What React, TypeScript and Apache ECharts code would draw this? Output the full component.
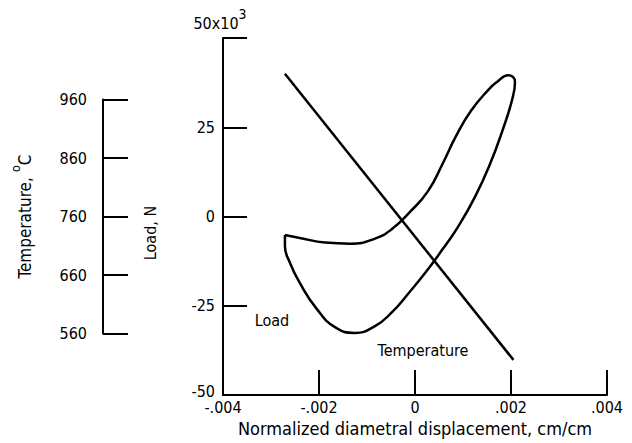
import React, { useEffect, useRef } from "react";
import * as echarts from "echarts";

const FONT = "'DejaVu Sans Condensed', 'Liberation Sans Narrow', 'DejaVu Sans', sans-serif";

// Axis ticks and labels
const xTicks = [-0.004, -0.002, 0, 0.002, 0.004];
const xTickLabels = ["-.004", "-.002", "0", ".002", ".004"];
const loadTicks = [-50, -25, 0, 25, 50];
const loadTickLabels = ["{low|-50}", "-25", "0", "25", ""];
const temperatureTicks = [560, 660, 760, 860, 960];
const temperatureTickLabels = ["560", "660", "760", "860", "960"];

// Load loop (displacement, cm/cm ; load, 10^3 N), traced around the hysteresis loop
const loadDisplacement = [
  -0.00271, -0.0024, -0.001875, -0.001354, -0.000833, -0.000479, -0.000104, 0.000271,
  0.000583, 0.000854, 0.001167, 0.001542, 0.001708, 0.001938, 0.002083,
  0.002021, 0.001833, 0.001563, 0.00125, 0.000896, 0.000563, 0.00023, -0.000146, -0.000479,
  -0.000833, -0.00125, -0.001667, -0.002063, -0.0024, -0.002604, -0.00271, -0.00271,
];
const loadValues = [
  -5.2, -6.0, -7.3, -7.6, -6.2, -3.5, 1.3, 7.1, 15.0, 22.5, 29.6, 35.7, 37.7, 39.6, 37.7,
  32.6, 24.5, 14.7, 5.5, -2.9, -9.4, -15.5, -21.7, -26.8, -30.7, -32.6, -31.0, -25.6,
  -18.6, -13.0, -8.2, -5.2,
];

// Temperature line (displacement, cm/cm ; temperature, deg C)
const temperatureDisplacement = [-0.00271, 0.00205];
const temperatureValues = [1004, 515];

function pick(ticks: number[], labels: string[], v: number) {
  const i = ticks.findIndex((t) => Math.abs(t - v) < 1e-9);
  return i >= 0 ? labels[i] : "";
}

const black = "#000";
const axisLine = { show: true, onZero: false, lineStyle: { color: black, width: 2 } };

export default function App() {
  const ref = useRef<HTMLDivElement>(null);
  useEffect(() => {
    if (!ref.current) return;
    const chart = echarts.init(ref.current, null, { renderer: "svg" });
    const labelStyle = { color: black, fontSize: 16, fontFamily: FONT };
    chart.setOption({
      animation: false,
      backgroundColor: "#fff",
      grid: [
        { left: 223, top: 38, width: 384, height: 357 },
        { left: 103, top: 99.5, width: 1, height: 234 },
      ],
      xAxis: [
        {
          gridIndex: 0,
          type: "value",
          min: -0.004,
          max: 0.004,
          interval: 0.002,
          axisLine,
          axisTick: { show: true, inside: true, length: 25, lineStyle: { color: black, width: 2 } },
          axisLabel: {
            ...labelStyle,
            margin: 4,
            showMinLabel: true,
            showMaxLabel: true,
            formatter: (v: number) => pick(xTicks, xTickLabels, v),
          },
          splitLine: { show: false },
          name: "Normalized diametral displacement, cm/cm",
          nameLocation: "middle",
          nameGap: 21,
          nameTextStyle: { color: black, fontSize: 18, fontFamily: FONT },
        },
        { gridIndex: 1, type: "value", min: 0, max: 1, show: false },
      ],
      yAxis: [
        {
          gridIndex: 0,
          type: "value",
          min: -50,
          max: 50,
          interval: 25,
          axisLine,
          axisTick: { show: true, inside: true, length: 24, lineStyle: { color: black, width: 2 } },
          axisLabel: {
            ...labelStyle,
            margin: 8,
            formatter: (v: number) => pick(loadTicks, loadTickLabels, v),
            rich: {
              low: { fontSize: 16, fontFamily: FONT, color: black, padding: [0, 0, 8, 0] },
            },
          },
          splitLine: { show: false },
          name: "{b|50x10}{sup|3}",
          nameLocation: "end",
          nameGap: 7,
          nameTextStyle: {
            color: black,
            fontSize: 16,
            fontFamily: FONT,
            align: "center",
            padding: [0, 6, 0, 0],
            rich: {
              b: { fontSize: 16, fontFamily: FONT, color: black, lineHeight: 24, verticalAlign: "bottom" },
              sup: { fontSize: 14, fontFamily: FONT, color: black, lineHeight: 14, verticalAlign: "top" },
            },
          },
        },
        { gridIndex: 0, type: "value", min: 455, max: 1065, show: false },
        {
          gridIndex: 1,
          type: "value",
          position: "left",
          min: 560,
          max: 960,
          interval: 100,
          axisLine,
          axisTick: { show: true, inside: true, length: 25, lineStyle: { color: black, width: 2 } },
          axisLabel: {
            ...labelStyle,
            margin: 16,
            formatter: (v: number) => pick(temperatureTicks, temperatureTickLabels, v),
          },
          splitLine: { show: false },
          name: "{b|Temperature,} {sup|o}{b|C}",
          nameLocation: "middle",
          nameGap: 70,
          nameRotate: 90,
          nameTextStyle: {
            color: black,
            fontSize: 17,
            fontFamily: FONT,
            rich: {
              b: { fontSize: 17, fontFamily: FONT, color: black, lineHeight: 24, verticalAlign: "bottom" },
              sup: { fontSize: 13, fontFamily: FONT, color: black, lineHeight: 13, verticalAlign: "top" },
            },
          },
        },
      ],
      series: [
        {
          type: "line",
          xAxisIndex: 0,
          yAxisIndex: 0,
          data: loadDisplacement.map((x, i) => [x, loadValues[i]]),
          smooth: 0.5,
          symbol: "none",
          lineStyle: { color: black, width: 2.5 },
        },
        {
          type: "line",
          xAxisIndex: 0,
          yAxisIndex: 1,
          data: temperatureDisplacement.map((x, i) => [x, temperatureValues[i]]),
          symbol: "none",
          lineStyle: { color: black, width: 2.5 },
        },
      ],
      graphic: [
        {
          type: "text",
          x: 150,
          y: 233,
          rotation: Math.PI / 2,
          style: { text: "Load, N", fill: black, fontSize: 16, fontFamily: FONT, align: "center", verticalAlign: "middle" },
        },
        {
          type: "text",
          x: 272,
          y: 320,
          style: { text: "Load", fill: black, fontSize: 16, fontFamily: FONT, align: "center", verticalAlign: "middle" },
        },
        {
          type: "text",
          x: 423,
          y: 350,
          style: { text: "Temperature", fill: black, fontSize: 16, fontFamily: FONT, align: "center", verticalAlign: "middle" },
        },
      ],
    });
    return () => chart.dispose();
  }, []);
  return (
    <div
      ref={ref}
      style={{ position: "absolute", left: 0, top: 0, width: 632, height: 443, background: "#fff" }}
    />
  );
}
